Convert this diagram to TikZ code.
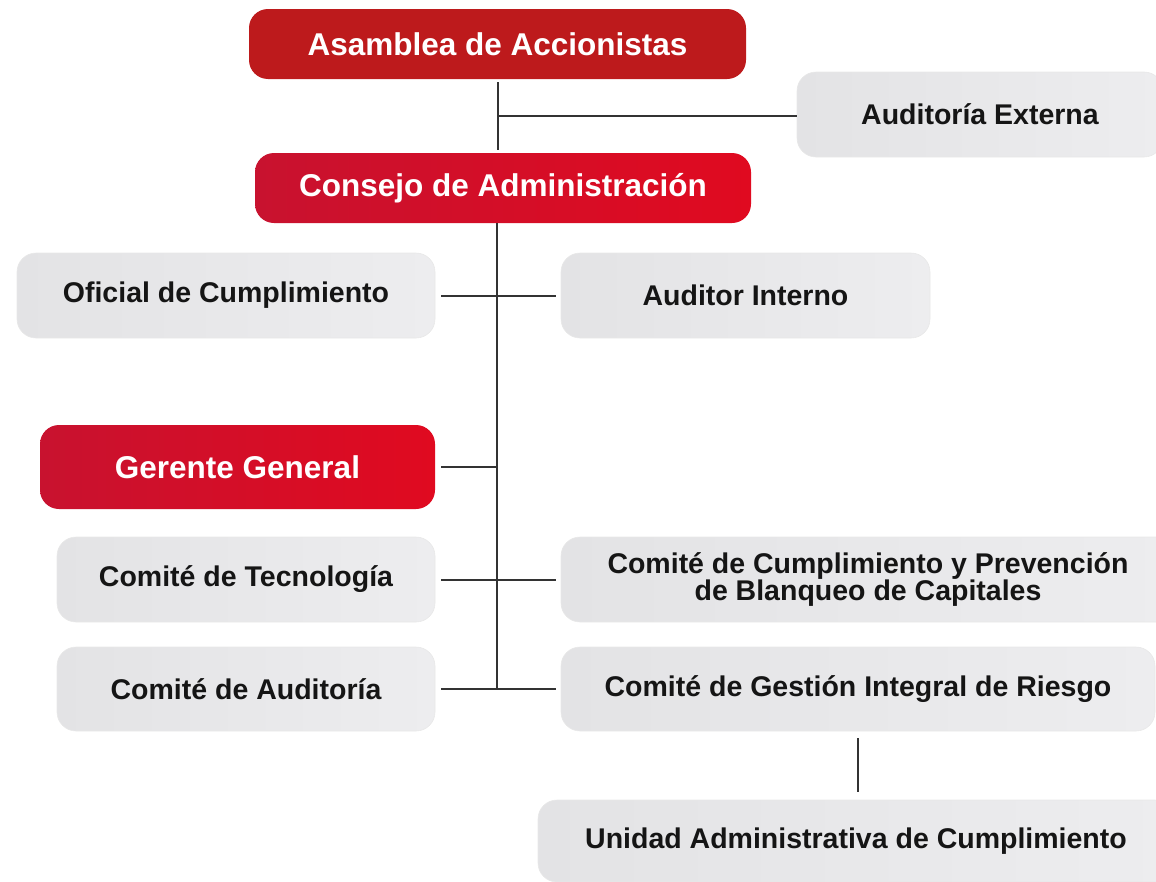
\documentclass[tikz,border=0pt]{standalone}
\usepackage{fontspec}
\setmainfont{Liberation Sans}
\definecolor{darkred}{HTML}{BD1A1C}
\definecolor{redL}{HTML}{C8122F}
\definecolor{redR}{HTML}{E00A20}
\definecolor{grayL}{HTML}{E3E3E5}
\definecolor{grayR}{HTML}{EDEDEF}
\definecolor{linec}{HTML}{333333}
\definecolor{textc}{HTML}{151515}
\begin{document}
\begin{tikzpicture}[x=1pt,y=-1pt,
  box/.style={rounded corners=19pt, inner sep=0pt, align=center, anchor=center},
  redbox/.style={box, left color=redL, right color=redR, text=white,
    font=\fontsize{31.5}{33}\selectfont\bfseries},
  graybox/.style={box, left color=grayL, right color=grayR, draw=gray!18, line width=0.6pt,
    text=textc, font=\fontsize{28.5}{27}\selectfont\bfseries},
  conn/.style={draw=linec, line width=2pt}]
\useasboundingbox (0,0) rectangle (1156,881);

\node[box, fill=darkred, text=white, font=\fontsize{31.5}{33}\selectfont\bfseries,
  minimum width=497pt, minimum height=70pt] (asam) at (497.5,44) {Asamblea de Accionistas};
\node[graybox, minimum width=366pt, minimum height=85pt] (audext) at (980,114.5) {Auditoría Externa};
\node[redbox, minimum width=496pt, minimum height=70pt] (cons) at (503,188) {Consejo de Administración};

\node[graybox, minimum width=418pt, minimum height=85pt] (ofi) at (226,295.5) {Oficial de Cumplimiento};
\node[graybox, minimum width=369pt, minimum height=85pt] (aint) at (745.5,295.5) {Auditor Interno};

\node[redbox, minimum width=395pt, minimum height=84pt] (ger) at (237.5,467) {Gerente General};

\node[graybox, minimum width=378pt, minimum height=85pt] (tec) at (246,579.5) {Comité de Tecnología};
\node[graybox, minimum width=614pt, minimum height=85pt] (cum) at (868,579.5)
  {Comité de Cumplimiento y Prevención\\de Blanqueo de Capitales};

\node[graybox, minimum width=378pt, minimum height=84pt] (caud) at (246,689) {Comité de Auditoría};
\node[graybox, minimum width=594pt, minimum height=84pt] (ges) at (858,689) {Comité de Gestión Integral de Riesgo};

\node[graybox, minimum width=636pt, minimum height=82pt] (uni) at (856,841) {Unidad Administrativa de Cumplimiento};

% connectors
\coordinate (j1) at (497,116);
\coordinate (ttop) at (497,223);
\coordinate (tbot) at (497,689);
\draw[conn, shorten <=3pt, shorten >=3pt] (asam.south) -- (asam.south |- cons.north);
\draw[conn] (j1) -- (j1 -| audext.west);
\draw[conn] (ttop) -- (tbot);
\draw[conn, shorten <=6pt, shorten >=5pt] (ofi.east) -- (aint.west);
\draw[conn, shorten <=6pt] (ger.east) -- (ger.east -| ttop);
\draw[conn, shorten <=6pt, shorten >=5pt] (tec.east) -- (tec.east -| cum.west);
\draw[conn, shorten <=6pt, shorten >=5pt] (caud.east) -- (caud.east -| ges.west);
\draw[conn, shorten <=7pt, shorten >=8pt] (ges.south) -- (ges.south |- uni.north);
\end{tikzpicture}
\end{document}
